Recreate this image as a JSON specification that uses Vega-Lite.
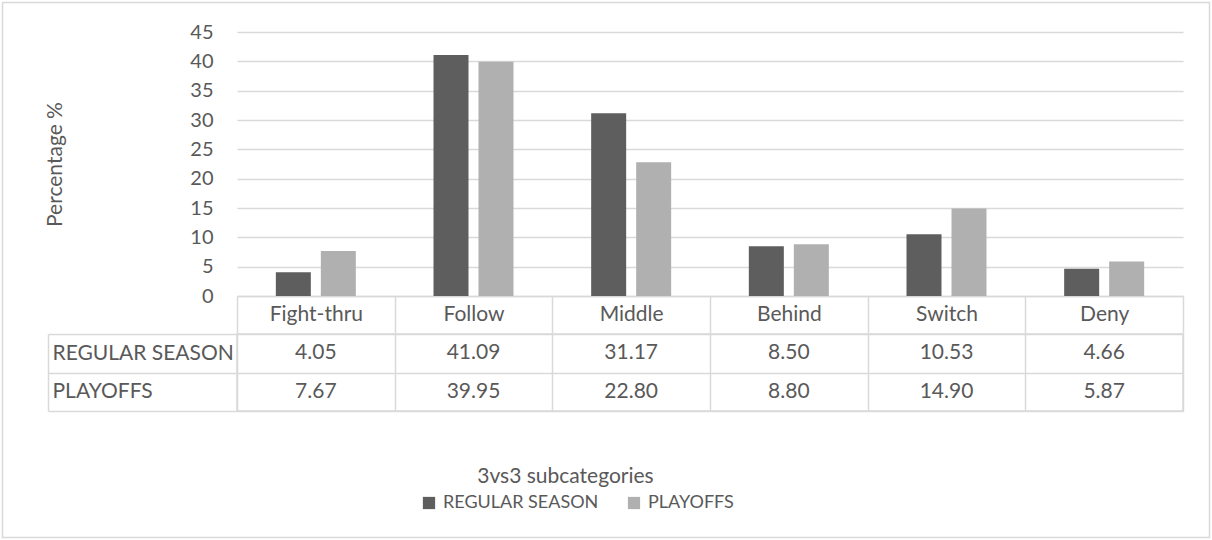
{
  "$schema": "https://vega.github.io/schema/vega-lite/v6.json",
  "padding": {"left": 2, "top": 2, "right": 2, "bottom": 2},
  "background": "white",
  "data": {"values": [
    {"category": "Fight-thru", "series": "REGULAR SEASON", "value": 4.05},
    {"category": "Fight-thru", "series": "PLAYOFFS", "value": 7.67},
    {"category": "Follow", "series": "REGULAR SEASON", "value": 41.09},
    {"category": "Follow", "series": "PLAYOFFS", "value": 39.95},
    {"category": "Middle", "series": "REGULAR SEASON", "value": 31.17},
    {"category": "Middle", "series": "PLAYOFFS", "value": 22.80},
    {"category": "Behind", "series": "REGULAR SEASON", "value": 8.50},
    {"category": "Behind", "series": "PLAYOFFS", "value": 8.80},
    {"category": "Switch", "series": "REGULAR SEASON", "value": 10.53},
    {"category": "Switch", "series": "PLAYOFFS", "value": 14.90},
    {"category": "Deny", "series": "REGULAR SEASON", "value": 4.66},
    {"category": "Deny", "series": "PLAYOFFS", "value": 5.87}
  ]},
  "config": {
    "font": "Lato",
    "view": {"stroke": null},
    "axis": {"labelColor": "#595959", "titleColor": "#595959", "titleFontWeight": "normal", "labelFont": "Lato", "titleFont": "Lato"}
  },
  "spacing": -12,
  "vconcat": [
    {
      "width": 946,
      "height": 264,
      "mark": {"type": "bar"},
      "encoding": {
        "x": {
          "field": "category", "type": "nominal",
          "sort": ["Fight-thru", "Follow", "Middle", "Behind", "Switch", "Deny"],
          "scale": {"paddingInner": 0, "paddingOuter": 0},
          "axis": {"title": null, "labelAngle": 0, "labelFontSize": 21, "labelPadding": -18.5, "labelBaseline": "middle",
                   "ticks": true, "tickBand": "extent", "tickSize": 37, "tickColor": "#d9d9d9", "tickWidth": 1.5,
                   "domain": true, "domainColor": "#d9d9d9", "domainWidth": 1.5, "grid": false}
        },
        "xOffset": {"field": "series", "type": "nominal", "sort": ["REGULAR SEASON", "PLAYOFFS"],
                    "scale": {"paddingInner": 0.2222, "paddingOuter": 0.863}},
        "y": {
          "field": "value", "type": "quantitative",
          "scale": {"domain": [0, 45], "nice": false},
          "axis": {"title": "Percentage %", "values": [0, 5, 10, 15, 20, 25, 30, 35, 40, 45],
                   "titleFontSize": 21, "labelFontSize": 20, "labelPadding": 24, "ticks": false, "domain": false,
                   "gridColor": "#d9d9d9", "gridWidth": 1.5, "minExtent": 47, "maxExtent": 47, "titlePadding": 124.5}
        },
        "color": {
          "field": "series", "type": "nominal",
          "sort": ["REGULAR SEASON", "PLAYOFFS"],
          "scale": {"domain": ["REGULAR SEASON", "PLAYOFFS"], "range": ["#5e5e5e", "#b0b0b0"]},
          "legend": {"orient": "none", "legendX": 183, "legendY": 462, "direction": "horizontal", "title": null,
                     "symbolType": "square", "symbolSize": 150, "symbolStrokeWidth": 0, "labelFontSize": 18,
                     "labelColor": "#595959", "columnPadding": 26, "labelOffset": 5}
        }
      }
    },
    {
      "width": 946,
      "height": 77,
      "view": {"stroke": "#d9d9d9", "strokeWidth": 1.5},
      "mark": {"type": "text", "fontSize": 21, "color": "#595959", "strokeWidth": 0},
      "encoding": {
        "x": {
          "field": "category", "type": "nominal",
          "sort": ["Fight-thru", "Follow", "Middle", "Behind", "Switch", "Deny"],
          "scale": {"paddingInner": 0, "paddingOuter": 0},
          "axis": {"labels": false, "ticks": false, "domain": false, "grid": true, "tickBand": "extent",
                   "gridColor": "#d9d9d9", "gridWidth": 1.5, "title": "3vs3 subcategories", "titleFontSize": 21,
                   "titlePadding": 54, "titleX": 328}
        },
        "y": {
          "field": "series", "type": "nominal", "sort": ["REGULAR SEASON", "PLAYOFFS"],
          "scale": {"paddingInner": 0, "paddingOuter": 0},
          "axis": {"title": null, "offset": 189, "labelAlign": "left", "labelPadding": 185, "labelFontSize": 21,
                   "labelBaseline": "middle", "labelLimit": 400,
                   "ticks": true, "tickSize": -189, "tickBand": "extent", "tickColor": "#d9d9d9", "tickWidth": 1.5,
                   "domain": true, "domainColor": "#d9d9d9", "domainWidth": 1.5,
                   "grid": true, "gridColor": "#d9d9d9", "gridWidth": 1.5}
        },
        "text": {"field": "value", "type": "quantitative", "format": ".2f"},
        "stroke": {
          "field": "value", "type": "quantitative",
          "scale": {"range": ["rgba(255,255,255,0)", "rgba(255,255,255,0)"]},
          "legend": {"orient": "none", "legendX": -234.5, "legendY": -29.5, "direction": "horizontal", "title": null,
                     "gradientLength": 1207, "gradientThickness": 535, "gradientStrokeColor": "#d9d9d9",
                     "gradientStrokeWidth": 1.5, "labelOpacity": 0, "labelExpr": "''", "labelFontSize": 1,
                     "labelOffset": 0, "tickCount": 2}
        }
      }
    }
  ]
}
